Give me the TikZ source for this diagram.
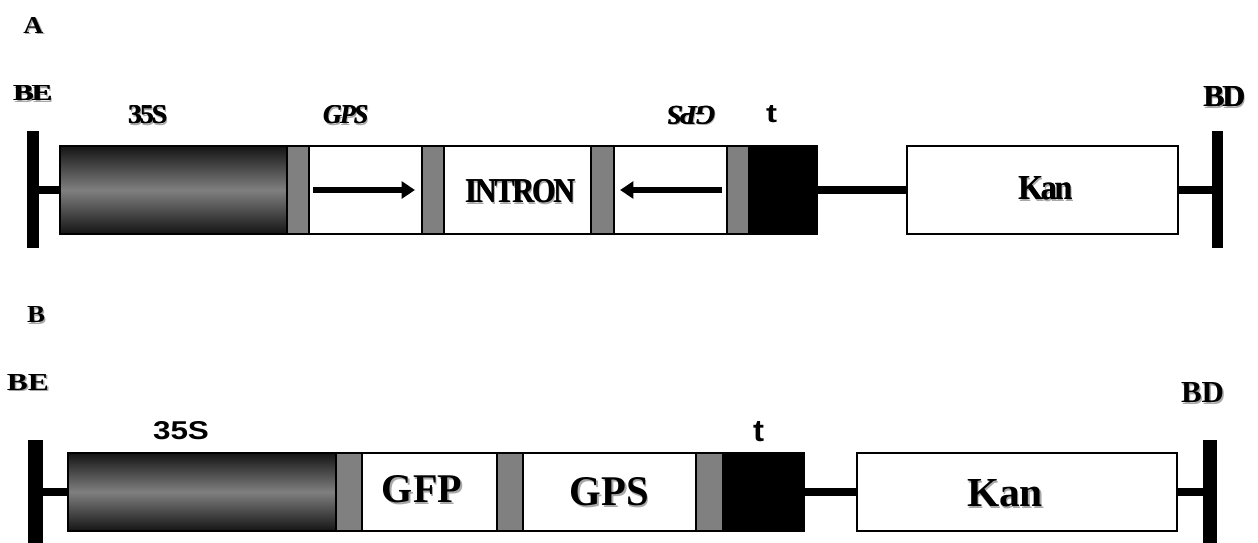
\documentclass[tikz,border=0pt]{standalone}
\usepackage{fontspec}
\setmainfont{Liberation Serif}
\setsansfont{Liberation Sans}
\newfontfamily\tightfont{Liberation Serif}[LetterSpace=-7]
\usepackage{graphicx}
\usetikzlibrary{arrows.meta}
\newlength\pxu \setlength\pxu{0.75pt}
\definecolor{spacergray}{HTML}{808080}
\definecolor{shadowgray}{HTML}{A8A8A8}
% segment node: style, name, x0, x1, y0, y1 (pixels)
\newcommand\seg[6]{\node[#1, minimum width={(#4-#3)*0.75pt}, minimum height={(#6-#5)*0.75pt}] (#2) at ({(#3+#4)/2},{(#5+#6)/2}) {};}
% text with grey drop shadow, in one box
\newcommand\shad[1]{\rlap{\smash{\kern1.1pt\raisebox{-1.1pt}{\textcolor{shadowgray}{#1}}}}#1}
% heavy text: drop shadow + faux bold
\newcommand\heavy[1]{\rlap{\smash{\kern1.1pt\raisebox{-1.1pt}{\textcolor{shadowgray}{#1}}}}\rlap{\kern0.45pt #1}#1}
% labels: name, cx, cy, w, h, font, text
\newcommand\lbl[7]{\node[lbltxt] (#1) at (#2,#3) {#6\shad{\resizebox{#4\pxu}{#5\pxu}{#7}}};}
\newcommand\hlbl[7]{\node[lbltxt] (#1) at (#2,#3) {#6\heavy{\resizebox{#4\pxu}{#5\pxu}{#7}}};}
\newcommand\rlbl[7]{\node[lbltxt] (#1) at (#2,#3) {#6\heavy{\rotatebox{180}{\resizebox{#4\pxu}{#5\pxu}{#7}}}};}
\tikzset{
  segbase/.style={inner sep=0pt, draw=black, line width=0.9pt},
  promo/.style={segbase, top color=black!92, bottom color=black!92, middle color=black!50},
  spacer/.style={segbase, fill=spacergray},
  whitebox/.style={segbase, fill=white},
  term/.style={segbase, fill=black},
  bar/.style={inner sep=0pt, fill=black, draw=none},
  conn/.style={line width=6pt, black},
  arrowline/.style={line width=4pt, black, -{Triangle[length=10pt,width=12.5pt]}},
  lbltxt/.style={inner sep=0pt, outer sep=0pt, anchor=center, text=black},
}
\begin{document}
\begin{tikzpicture}[x=0.75pt, y=-0.75pt]
\useasboundingbox (0,0) rectangle (1258,543);
% ---------------- Panel A ----------------
\seg{promo}{a35}{60}{287}{146}{234}
\seg{spacer}{as1}{287}{309}{146}{234}
\seg{whitebox}{agps}{309}{422}{146}{234}
\seg{spacer}{as2}{422}{444}{146}{234}
\seg{whitebox}{aint}{444}{591}{146}{234}
\seg{spacer}{as3}{591}{614}{146}{234}
\seg{whitebox}{asp}{614}{727}{146}{234}
\seg{spacer}{as4}{727}{749}{146}{234}
\seg{term}{at}{749}{817}{146}{234}
\seg{whitebox}{akan}{907}{1178}{146}{234}
\seg{bar}{abl}{27}{39}{131}{248}
\seg{bar}{abr}{1212}{1223}{131}{248}
\draw[conn] (abl.east) -- (abl.east -| a35.west);
\draw[conn] (at.east) -- (akan.west);
\draw[conn] (akan.east) -- (akan.east -| abr.west);
\coordinate (a1s) at (313,190);
\coordinate (a1e) at (415,190);
\coordinate (a2s) at (722,190);
\coordinate (a2e) at (620,190);
\draw[arrowline] (a1s) -- (a1e);
\draw[arrowline] (a2s) -- (a2e);
\lbl{labA}{33.5}{25}{20}{16}{\bfseries}{A}
\hlbl{aBE}{32.5}{93.5}{39}{15}{\tightfont\bfseries}{BE}
\hlbl{a35l}{147.5}{115}{39}{18}{\tightfont\bfseries}{35S}
\hlbl{agpsl}{345.5}{115}{45}{18}{\tightfont\bfseries\itshape}{GPS}
\rlbl{aspl}{691}{115}{48}{18}{\tightfont\bfseries\itshape}{GPS}
\node[lbltxt] (atl) at (771.5,114.5) {\sffamily\bfseries\resizebox{11\pxu}{17\pxu}{t}};
\hlbl{aintl}{520}{191.5}{110}{23}{\tightfont\bfseries}{INTRON}
\hlbl{akanl}{1045}{188.5}{54}{23}{\tightfont\bfseries}{Kan}
\hlbl{aBD}{1224}{97}{42}{20}{\tightfont\bfseries}{BD}
% ---------------- Panel B ----------------
\seg{promo}{b35}{68}{336}{453}{531}
\seg{spacer}{bs1}{336}{362}{453}{531}
\seg{whitebox}{bgfp}{362}{497}{453}{531}
\seg{spacer}{bs2}{497}{523}{453}{531}
\seg{whitebox}{bgps}{523}{696}{453}{531}
\seg{spacer}{bs3}{696}{723}{453}{531}
\seg{term}{bt}{723}{804}{453}{531}
\seg{whitebox}{bkan}{857}{1177}{453}{531}
\seg{bar}{bbl}{28}{43}{440}{543}
\seg{bar}{bbr}{1203}{1217}{440}{543}
\draw[conn] (bbl.east) -- (bbl.east -| b35.west);
\draw[conn] (bt.east) -- (bkan.west);
\draw[conn] (bkan.east) -- (bkan.east -| bbr.west);
\lbl{labB}{36}{315}{18}{16}{\bfseries}{B}
\lbl{bBE}{28}{382.5}{42}{16}{\bfseries}{BE}
\node[lbltxt] (b35l) at (181,431) {\sffamily\bfseries\resizebox{56\pxu}{18\pxu}{35S}};
\node[lbltxt] (btl) at (758.5,431.5) {\sffamily\bfseries\resizebox{11\pxu}{20\pxu}{t}};
\lbl{bgfpl}{422}{489.5}{80}{27}{\bfseries}{GFP}
\lbl{bgpsl}{609.5}{492}{79}{28}{\bfseries}{GPS}
\lbl{bkanl}{1005}{493.5}{76}{27}{\bfseries}{Kan}
\lbl{bBD}{1202.5}{393}{43}{20}{\bfseries}{BD}
\end{tikzpicture}
\end{document}
